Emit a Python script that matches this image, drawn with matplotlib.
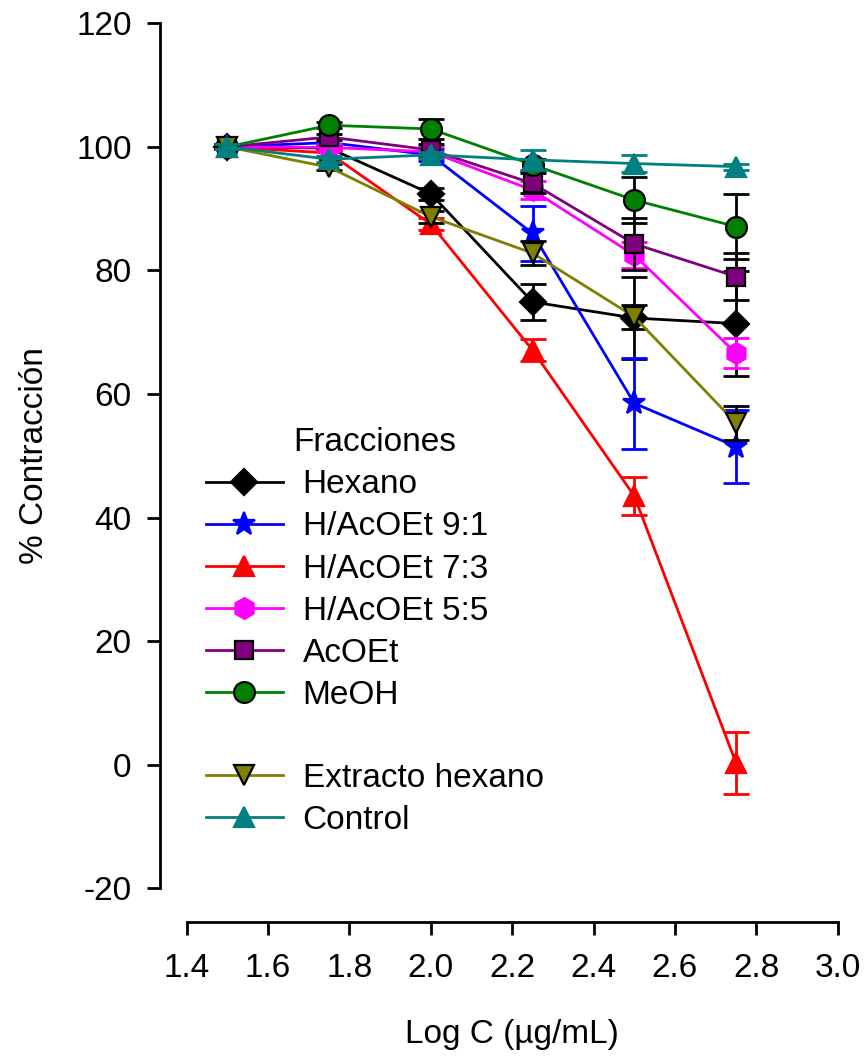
import matplotlib
matplotlib.use("Agg")
import matplotlib.pyplot as plt
from matplotlib.lines import Line2D

plt.rcParams['font.family'] = ['Liberation Sans', 'DejaVu Sans']
plt.rcParams['axes.unicode_minus'] = False

log_c = [1.5, 1.75, 2.0, 2.25, 2.5, 2.75]

hexano = [100, 99.8, 92.4, 74.9, 72.3, 71.4]
hexano_err = [0.4, 0.5, 1.0, 2.9, 6.6, 8.5]
h91 = [100, 100.7, 98.7, 86.0, 58.5, 51.5]
h91_err = [0.4, 0.5, 1.0, 4.5, 7.4, 5.9]
h73 = [100, 99.0, 87.5, 67.1, 43.5, 0.3]
h73_err = [0.4, 0.5, 1.0, 1.75, 3.1, 5.0]
h55 = [100, 99.9, 99.2, 93.0, 82.5, 66.6]
h55_err = [0.4, 0.5, 1.0, 1.5, 2.1, 2.4]
acoet = [100, 101.6, 99.5, 94.1, 84.3, 79.0]
acoet_err = [0.4, 0.5, 1.0, 1.6, 4.2, 3.8]
meoh = [100, 103.5, 102.9, 97.1, 91.4, 87.1]
meoh_err = [0.4, 0.5, 1.6, 1.0, 3.7, 5.2]
extracto = [100, 96.7, 88.7, 82.8, 72.5, 55.3]
extracto_err = [0.4, 0.5, 1.0, 1.9, 1.9, 2.8]
control = [100, 98.0, 98.7, 97.9, 97.3, 96.8]
control_err = [0.4, 0.5, 0.5, 1.6, 1.4, 0.5]

labels = ["Hexano", "H/AcOEt 9:1", "H/AcOEt 7:3", "H/AcOEt 5:5", "AcOEt", "MeOH",
          "Extracto hexano", "Control"]
series = [hexano, h91, h73, h55, acoet, meoh, extracto, control]
errors = [hexano_err, h91_err, h73_err, h55_err, acoet_err, meoh_err, extracto_err, control_err]
colors = ["#000000", "#0000ff", "#ff0000", "#ff00ff", "#800080", "#008000", "#808000", "#008080"]
markers = ["D", "*", "^", "h", "s", "o", "v", "^"]
msizes = [13, 17, 14, 15, 13, 15, 14, 14]
black_edge = [True, False, False, False, True, True, True, False]

FS = 24
W, H = 864, 1057
fig = plt.figure(figsize=(W / 100, H / 100), dpi=100)
ax = fig.add_axes([186.7 / W, (H - 888.3) / H, (837.7 - 186.7) / W, (888.3 - 23.3) / H])

handles = []
for i, (y, e, c, m, ms, be, lab) in enumerate(zip(series, errors, colors, markers, msizes, black_edge, labels)):
    ecol = "black" if be else c
    ax.errorbar(log_c, y, yerr=e, fmt='none', ecolor=ecol, elinewidth=2,
                capsize=9.5, capthick=2, zorder=2 + i)
    ln, = ax.plot(log_c, y, color=c, lw=2, marker=m, markersize=ms,
                  markerfacecolor=c, markeredgecolor=ecol if be else c,
                  markeredgewidth=1.6, label=lab, zorder=2.5 + i)
    handles.append(ln)

blank = Line2D([], [], linestyle='none', marker=None, label=' ')
leg_handles = handles[:6] + [blank] + handles[6:]
leg_labels = labels[:6] + [' '] + labels[6:]
leg = fig.legend(leg_handles, leg_labels, title="Fracciones", loc='upper left',
                 bbox_to_anchor=(206 / W, 1 - 427 / H), frameon=False,
                 fontsize=FS, title_fontsize=FS, handlelength=2.3,
                 handletextpad=0.6, labelspacing=0.335, borderpad=0, borderaxespad=0)
leg.get_texts()[6].set_fontsize(20)

ax.set_xlim(1.4, 3.0)
ax.set_ylim(-20, 120)
ax.set_xticks([1.4, 1.6, 1.8, 2.0, 2.2, 2.4, 2.6, 2.8, 3.0])
ax.set_xticklabels(["1.4", "1.6", "1.8", "2.0", "2.2", "2.4", "2.6", "2.8", "3.0"])
ax.set_yticks([-20, 0, 20, 40, 60, 80, 100, 120])
ax.spines['top'].set_visible(False)
ax.spines['right'].set_visible(False)
ax.spines['left'].set_position(('outward', 19.2))
ax.spines['bottom'].set_position(('outward', 24))
for s in ['left', 'bottom']:
    ax.spines[s].set_linewidth(2)
ax.tick_params(axis='both', direction='out', length=9.5, width=2, labelsize=FS)
ax.tick_params(axis='y', pad=11)
ax.tick_params(axis='x', pad=13)

fig.text(35 / W, 1 - 456 / H, "% Contracción", rotation=90, ha='center', va='center', fontsize=FS)
fig.text(512 / W, 1 - 1035 / H, "Log C (µg/mL)", ha='center', va='center', fontsize=FS)

fig.savefig("out.png", dpi=100)
